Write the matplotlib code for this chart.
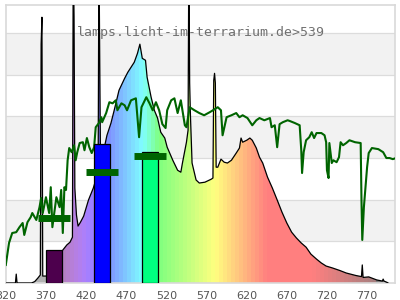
import numpy as np
import matplotlib.pyplot as plt
from matplotlib.patches import Polygon

# Lamp spectrum (black outline, rainbow fill), relative units 0-100
spec_nm = [320, 332, 333, 334, 352, 356, 360, 363, 364, 365, 366, 370, 375, 380, 385,
           390, 396, 400, 403, 404, 405, 406, 408, 410, 413, 417, 423, 429, 432, 435,
           436, 437, 438, 442, 446, 451, 455, 461, 468, 472, 476, 480, 484, 487, 490,
           494, 496, 501, 505, 509, 513, 518, 521, 528, 534, 538, 540, 545, 547, 548,
           549, 550, 552, 557, 561, 568, 576, 578, 579, 580, 581, 582, 584, 588, 592,
           596, 601, 607, 611, 613, 615, 620, 624, 627, 632, 636, 640, 646, 652, 658,
           664, 670, 676, 682, 688, 694, 700, 707, 713, 719, 727, 736, 744, 756, 763,
           764, 765, 772, 782, 789, 790, 791, 795, 796]
spec_val = [0, 0, 3.2, 0, 0, 0.5, 1.8, 2.9, 86.0, 95.7, 2.5, 2.5, 3.6, 5.4, 8.3,
            11.5, 13.7, 14.7, 16.5, 120, 96, 34.2, 24.5, 20.5, 21.9, 24.1, 29.9, 34.2, 37.1, 40,
            120, 80.2, 42.4, 47.8, 53.2, 57.6, 62.2, 69.4, 73.7, 75.9, 77.7, 79.5, 82.7, 86.0, 80.9,
            80.2, 74.1, 66.9, 62.2, 59.4, 54.3, 52.2, 48.9, 44.2, 40.6, 39.9, 43.2, 50.7, 55, 120,
            72, 60, 43.2, 37.1, 36.0, 36.3, 37.4, 37.8, 73, 75.5, 72, 41.7, 41.7, 44.6, 43.5,
            43.2, 44.2, 46.8, 48.6, 52.2, 50.7, 51.4, 52.2, 51.4, 48.6, 45.3, 43.2, 38.1, 34.2, 29.9,
            25.5, 21.6, 18.3, 16.2, 14.4, 12.9, 10.4, 8.6, 7.2, 6.1, 5.4, 4.5, 3.6, 2.7, 2.3,
            6.5, 2.0, 2.2, 1.1, 0.7, 1.4, 0.7, 0.2, 0]

# Reference spectrum (green line)
sun_nm = [320, 324, 328, 333, 337, 341, 343, 347, 351, 353, 358, 362, 364, 366, 370,
          374, 376, 378, 383, 387, 389, 391, 393, 395, 397, 399, 402, 405, 407, 409,
          412, 416, 418, 421, 424, 427, 430, 432, 436, 439, 440, 445, 449, 453, 457,
          459, 464, 468, 471, 476, 482, 486, 489, 495, 499, 503, 507, 511, 515, 519,
          521, 526, 530, 534, 538, 543, 545, 549, 555, 561, 567, 574, 578, 584, 588,
          590, 595, 601, 607, 611, 615, 621, 627, 632, 636, 642, 649, 651, 655, 658,
          661, 665, 671, 674, 680, 686, 688, 689, 691, 694, 698, 701, 704, 707, 713,
          717, 719, 720, 722, 723, 726, 728, 732, 735, 737, 740, 744, 748, 755, 762,
          763, 764, 766, 768, 770, 772, 776, 784, 790, 794, 798, 802, 806]
sun_val = [6.5, 14.4, 18.0, 18.3, 20.1, 21.6, 17.3, 21.9, 23.7, 25.2, 22.7, 27.3, 30.6, 25.2, 30.9,
           25.2, 34.5, 20.1, 30.9, 27.3, 33.5, 18.0, 34.5, 33.5, 44.2, 48.6, 47.1, 49.6, 44.2, 47.1,
           50.4, 50.7, 47.8, 52.2, 48.9, 46.8, 48.9, 56.1, 57.6, 59.7, 57.9, 61.2, 65.1, 64.7, 65.8,
           62.2, 64.7, 64.0, 62.2, 65.8, 66.5, 52.5, 63.3, 66.9, 64.7, 62.2, 65.1, 62.2, 57.2, 55.8,
           62.2, 65.8, 66.5, 61.2, 65.8, 56.8, 56.1, 63.3, 62.2, 61.2, 60.4, 61.5, 62.2, 63.3, 62.2,
           53.2, 59.7, 60.4, 61.2, 59.7, 60.4, 59.4, 56.8, 58.6, 59.4, 58.6, 59.4, 56.1, 56.8, 48.9,
           57.2, 57.9, 58.6, 58.3, 57.6, 56.8, 47.8, 39.6, 47.1, 51.4, 52.5, 54.3, 52.2, 54.0, 54.0,
           53.2, 50.7, 40.6, 37.8, 50.4, 43.2, 44.2, 43.5, 45.3, 50.7, 49.6, 50.4, 51.4, 50.7, 50.4,
           29.9, 15.5, 27.3, 34.5, 41.7, 46.8, 48.6, 48.2, 47.1, 45.0, 45.0, 44.6, 45.0]

# Band bars and the green markers
bar_nm = [380, 440, 500]
bar_val = [11.9, 49.9, 47.0]
mark_val = [23.4, 39.9, 45.8]

tick_vals = [320, 370, 420, 470, 520, 570, 620, 670, 720, 770]
title = 'lamps.licht-im-terrarium.de>539'


def wl_rgb(w):
    # wavelength -> rgb (Bruton)
    if w < 380:
        return (0.4, 0.4, 0.4)
    if w < 440:
        r, g, b = (440 - w) / 60, 0, 1
    elif w < 490:
        r, g, b = 0, (w - 440) / 50, 1
    elif w < 510:
        r, g, b = 0, 1, (510 - w) / 20
    elif w < 580:
        r, g, b = (w - 510) / 70, 1, 0
    elif w < 645:
        r, g, b = 1, (645 - w) / 65, 0
    else:
        r, g, b = 1, 0, 0
    if w < 420:
        f = 0.3 + 0.7 * (w - 380) / 40
    elif w <= 700:
        f = 1.0
    elif w <= 780:
        f = 0.3 + 0.7 * (780 - w) / 80
    else:
        f = 0.0
    return (r * f, g * f, b * f)


fig = plt.figure(figsize=(4, 3), dpi=100)
ax = fig.add_axes([5.8 / 400, 17 / 300, 389.4 / 400, 277.7 / 300])

# alternating bands + grid
for lo in (15, 45, 75):
    ax.axhspan(lo, lo + 15, color='#f2f2f2', lw=0, zorder=0)
ax.set_yticks([15, 30, 45, 60, 75, 90])
ax.yaxis.grid(True, color='#dcdcdc', lw=0.9, zorder=0.5)
ax.set_axisbelow(True)

ax.text(0.5, 0.889, title, transform=ax.transAxes, ha='center', va='baseline',
        family='DejaVu Sans Mono', size=9.5, color='#707070', zorder=1)

# rainbow fill clipped to the spectrum
steps = np.arange(320, 805, 5)
cols = np.array([[0.5 + 0.5 * c for c in wl_rgb(w + 2.5)] for w in steps])
im = ax.imshow(cols[None, :, :], extent=(320, 805, 0, 100), aspect='auto',
               interpolation='nearest', zorder=2)
verts = [(spec_nm[0], 0)] + list(zip(spec_nm, spec_val)) + [(spec_nm[-1], 0)]
clip = Polygon(verts, closed=True, fc='none', ec='none', transform=ax.transData)
ax.add_patch(clip)
im.set_clip_path(clip)

ax.plot(spec_nm, spec_val, color='black', lw=0.9, zorder=3)
ax.plot(sun_nm, sun_val, color='#006400', lw=1.5, zorder=4)

ax.bar(bar_nm, bar_val, width=20, color=[wl_rgb(w) for w in bar_nm],
       edgecolor='black', lw=0.9, zorder=5)
ax.hlines(mark_val, [w - 20 for w in bar_nm], [w + 20 for w in bar_nm],
          color='#006400', lw=5, capstyle='butt', zorder=6)

ax.set_xlim(320, 805)
ax.set_ylim(0, 100)
ax.set_xticks(tick_vals)
ax.set_xticklabels([str(t) for t in tick_vals])
ax.tick_params(axis='x', length=0, pad=6, labelsize=8, labelcolor='#555555')
ax.tick_params(axis='y', length=0, labelleft=False)
for s in ax.spines.values():
    s.set_color('#d9d9d9')
    s.set_linewidth(1.2)

fig.savefig('out.png', dpi=100)
